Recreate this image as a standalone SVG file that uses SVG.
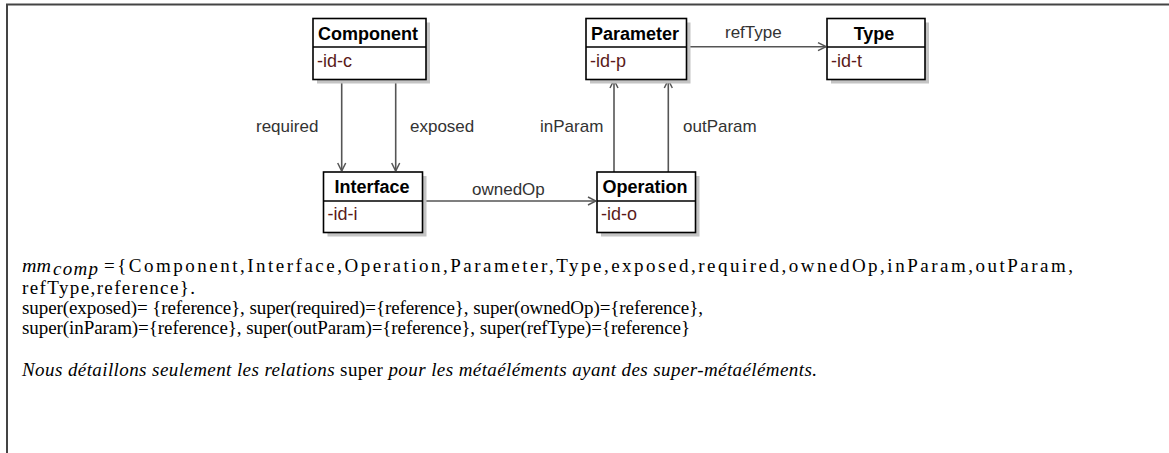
<svg xmlns="http://www.w3.org/2000/svg" width="1169" height="453" viewBox="0 0 1169 453">
  <style>
    .frame { stroke: #444; stroke-width: 2; fill: none; }
    .shadow { fill: #c4c4c4; }
    .box { fill: #fff; stroke: #000; stroke-width: 1.6; }
    .div { stroke: #000; stroke-width: 1.4; }
    .name { font-family: "Liberation Sans", Arial, sans-serif; font-size: 18px; font-weight: bold; fill: #000; text-anchor: middle; }
    .attr { font-family: "Liberation Sans", Arial, sans-serif; font-size: 18px; fill: #5a1a1a; }
    .edge { stroke: #555; stroke-width: 1.6; fill: none; marker-end: url(#open); }
    .lbl { font-family: "Liberation Sans", Arial, sans-serif; font-size: 17px; fill: #333; }
    .txt { font-family: "Liberation Serif", "Times New Roman", serif; font-size: 19px; fill: #000; }
    .it { font-style: italic; }
  </style>
  <defs>
    <marker id="open" viewBox="0 0 10 10" refX="10" refY="5" markerWidth="10" markerHeight="10" markerUnits="userSpaceOnUse" orient="auto">
      <path d="M2,1 L10,5 L2,9" fill="none" stroke="#555" stroke-width="1.5"/>
    </marker>
  </defs>

  <!-- page frame -->
  <path class="frame" d="M6,4.5 H1169 M7,4 V453"/>

  <!-- associations -->
  <g id="connectors">
    <line class="edge" x1="341.7" y1="80" x2="341.7" y2="171"/>
    <line class="edge" x1="395.7" y1="80" x2="395.7" y2="171"/>
    <line class="edge" x1="614" y1="172" x2="614" y2="80"/>
    <line class="edge" x1="668.3" y1="172" x2="668.3" y2="80"/>
    <line class="edge" x1="423" y1="201" x2="596" y2="201"/>
    <line class="edge" x1="687" y1="46.7" x2="826" y2="46.7"/>
    <text class="lbl" x="256" y="132">required</text>
    <text class="lbl" x="410" y="132">exposed</text>
    <text class="lbl" x="540" y="132">inParam</text>
    <text class="lbl" x="683" y="132">outParam</text>
    <text class="lbl" x="472" y="195">ownedOp</text>
    <text class="lbl" x="725" y="38">refType</text>
  </g>

  <g id="component">
    <rect class="shadow" x="317" y="22.5" width="113" height="61"/>
    <rect class="box" x="313" y="18.5" width="113" height="61"/>
    <line class="div" x1="313" y1="47" x2="426" y2="47"/>
    <text class="name" x="368" y="39.5">Component</text>
    <text class="attr" x="317" y="66.5">-id-c</text>
  </g>

  <g id="parameter">
    <rect class="shadow" x="590" y="22.5" width="100.5" height="61"/>
    <rect class="box" x="586" y="18.5" width="100.5" height="61"/>
    <line class="div" x1="586" y1="47" x2="686.5" y2="47"/>
    <text class="name" x="635" y="39.5">Parameter</text>
    <text class="attr" x="590" y="66.5">-id-p</text>
  </g>

  <g id="type">
    <rect class="shadow" x="831" y="22.5" width="98" height="61"/>
    <rect class="box" x="827" y="18.5" width="98" height="61"/>
    <line class="div" x1="827" y1="47" x2="925" y2="47"/>
    <text class="name" x="874" y="39.5">Type</text>
    <text class="attr" x="831" y="66.5">-id-t</text>
  </g>

  <g id="interface">
    <rect class="shadow" x="327.5" y="176" width="99" height="60.5"/>
    <rect class="box" x="323.5" y="172" width="99" height="60.5"/>
    <line class="div" x1="323.5" y1="201" x2="422.5" y2="201"/>
    <text class="name" x="372" y="192.5">Interface</text>
    <text class="attr" x="327.5" y="220">-id-i</text>
  </g>

  <g id="operation">
    <rect class="shadow" x="601" y="176" width="98.5" height="60.5"/>
    <rect class="box" x="597" y="172" width="98.5" height="60.5"/>
    <line class="div" x1="597" y1="201" x2="695.5" y2="201"/>
    <text class="name" x="645" y="192.5">Operation</text>
    <text class="attr" x="601" y="220">-id-o</text>
  </g>

  <!-- definition text -->
  <g id="definition">
    <text class="txt it" x="22" y="272" font-size="21" textLength="29" lengthAdjust="spacingAndGlyphs">mm</text>
    <text class="txt it" x="53" y="274.5" font-size="14" textLength="45" lengthAdjust="spacing">comp</text>
    <text class="txt" x="104" y="272" font-size="21" textLength="969" lengthAdjust="spacing">={Component,Interface,Operation,Parameter,Type,exposed,required,ownedOp,inParam,outParam,</text>
    <text class="txt" x="22" y="294" font-size="21" textLength="173" lengthAdjust="spacing">refType,reference}.</text>
    <text class="txt" x="22" y="314" textLength="681" lengthAdjust="spacing">super(exposed)= {reference}, super(required)={reference}, super(ownedOp)={reference},</text>
    <text class="txt" x="22" y="334" textLength="668" lengthAdjust="spacing">super(inParam)={reference}, super(outParam)={reference}, super(refType)={reference}</text>
    <text class="txt" x="22" y="376" font-size="20" textLength="795" lengthAdjust="spacing"><tspan class="it">Nous détaillons seulement les relations </tspan>super<tspan class="it"> pour les métaéléments ayant des super-métaéléments.</tspan></text>
  </g>
</svg>
